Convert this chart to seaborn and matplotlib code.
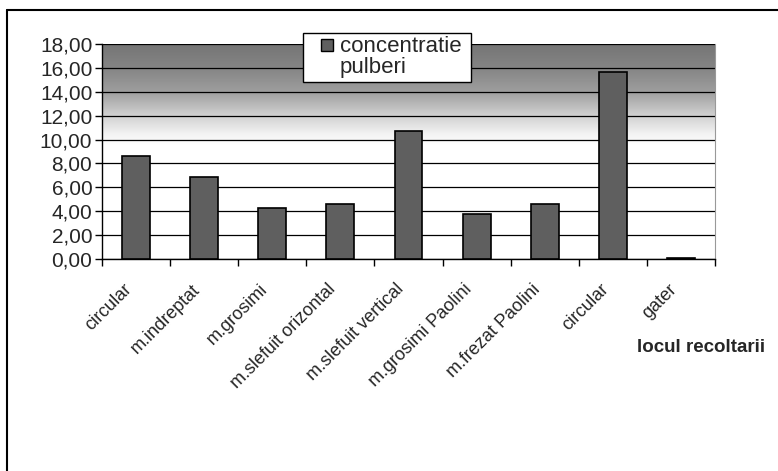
import numpy as np
import pandas as pd
import seaborn as sns
import matplotlib.pyplot as plt
from matplotlib.ticker import FuncFormatter, FixedLocator
from matplotlib.lines import Line2D
import matplotlib.transforms as mtransforms

# data
locuri = ['circular', 'm.indreptat', 'm.grosimi', 'm.slefuit orizontal',
          'm.slefuit vertical', 'm.grosimi Paolini', 'm.frezat Paolini',
          'circular', 'gater']
concentratie = [8.65, 6.88, 4.30, 4.58, 10.74, 3.74, 4.58, 15.66, 0.10]

df = pd.DataFrame({'poz': range(len(locuri)), 'conc': concentratie})

sns.set_style('white')
plt.rcParams['font.family'] = ['Liberation Sans', 'DejaVu Sans']

fig = plt.figure(figsize=(7.78, 4.71), dpi=100)
ax = fig.add_axes([102 / 778, 1 - 259 / 471, 613 / 778, 215 / 471])

# gradient background (dark at top, white from ~10 down)
ys = np.linspace(0, 18, 400)
grey = np.interp(ys, [0, 9.5, 10.5, 12, 14, 16, 18],
                 [1.0, 1.0, 0.95, 0.82, 0.62, 0.52, 0.46])
img = np.repeat(grey[:, None], 2, axis=1)
ax.imshow(img, cmap='gray', vmin=0, vmax=1, origin='lower', aspect='auto',
          extent=[0, 1, 0, 1], transform=ax.transAxes, zorder=0,
          interpolation='bilinear')

sns.barplot(data=df, x='poz', y='conc', color='#5f5f5f', width=0.41,
            edgecolor='black', linewidth=1.2, saturation=1, ax=ax, zorder=3)

ax.set_xlim(-0.5, len(locuri) - 0.5)
ax.set_ylim(0, 18)
ax.set_yticks(np.arange(0, 19, 2))
ax.yaxis.set_major_formatter(FuncFormatter(lambda v, p: f'{v:.2f}'.replace('.', ',')))
ax.yaxis.grid(True, color='black', linewidth=0.9, zorder=1)
ax.set_axisbelow(True)

# ticks at category boundaries, labels at centres
ax.xaxis.set_major_locator(FixedLocator(np.arange(-0.5, len(locuri), 1)))
ax.xaxis.set_major_formatter(FuncFormatter(lambda v, p: ''))
ax.set_xticks(np.arange(len(locuri)), minor=True)
ax.set_xticklabels(locuri, minor=True)
ax.tick_params(axis='x', which='major', direction='out', length=5, width=1, color='black', bottom=True)
ax.tick_params(axis='x', which='minor', length=0, pad=20, labelsize=13)
ax.tick_params(axis='y', direction='out', length=5, width=1, color='black', left=True,
               labelsize=15, pad=2)
offset = mtransforms.ScaledTranslation(-7 / 100, 0, fig.dpi_scale_trans)
for lbl in ax.get_xticklabels(minor=True):
    lbl.set_rotation(45)
    lbl.set_rotation_mode('anchor')
    lbl.set_ha('right')
    lbl.set_va('center')
    lbl.set_transform(lbl.get_transform() + offset)

ax.set_xlabel('')
ax.set_ylabel('')
for side in ['left', 'bottom']:
    ax.spines[side].set_color('black')
    ax.spines[side].set_linewidth(1)
ax.spines['top'].set_visible(False)
ax.spines['right'].set_color('#999999')

# legend: marker on the first line, label wrapped onto a second line
handles = [Line2D([], [], ls='', marker='s', ms=9, mfc='#5f5f5f', mec='black', mew=1),
           Line2D([], [], ls='', marker='')]
leg = ax.legend(handles, ['concentratie ', 'pulberi'],
                loc='upper left', bbox_to_anchor=(303 / 778, 1 - 33 / 471),
                bbox_transform=fig.transFigure, frameon=True, fancybox=False,
                framealpha=1, facecolor='white',
                fontsize=16, handlelength=1.9, handletextpad=-0.4,
                borderpad=0.15, labelspacing=0.0, borderaxespad=0)
leg.get_frame().set_edgecolor('black')
leg.get_frame().set_linewidth(1)
leg.set_zorder(10)

fig.text(765 / 778, 1 - 347 / 471, 'locul recoltarii', ha='right', va='center',
         fontsize=13.5, fontweight='bold',
         family=['Liberation Sans Narrow', 'Liberation Sans'])

# outer chart border (top and left only visible)
fig.add_artist(Line2D([7 / 778, 1], [1 - 10 / 471, 1 - 10 / 471], color='black', lw=1.5,
                      transform=fig.transFigure))
fig.add_artist(Line2D([7 / 778, 7 / 778], [0, 1 - 10 / 471], color='black', lw=1.5,
                      transform=fig.transFigure))

fig.savefig('out.png', dpi=100)
